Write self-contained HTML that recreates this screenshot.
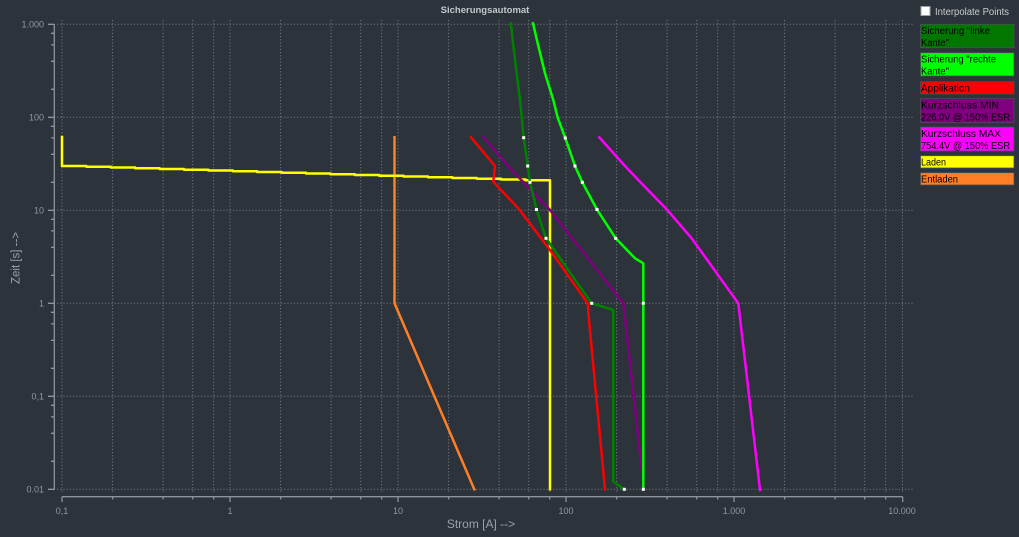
<!DOCTYPE html>
<html><head><meta charset="utf-8"><style>
html,body{margin:0;padding:0;background:#2c333a;}
svg{display:block;}
text{font-family:"Liberation Sans",sans-serif;}
</style></head><body>
<svg width="1019" height="537" viewBox="0 0 1019 537" xmlns="http://www.w3.org/2000/svg">
<rect width="1019" height="537" fill="#2c333a"/>
<text x="485" y="13" text-anchor="middle" font-size="9.5" font-weight="bold" fill="#c3c8cd">Sicherungsautomat</text>

<g stroke="#6f777f" stroke-width="1" stroke-dasharray="1.2 2" fill="none">
<path d="M62 20V493M112.6 20V493M163.1 20V493M192.7 20V493M213.7 20V493M230 20V493M280.6 20V493M331.1 20V493M360.7 20V493M381.7 20V493M398 20V493M448.6 20V493M499.1 20V493M528.7 20V493M549.7 20V493M566 20V493M616.6 20V493M667.1 20V493M696.7 20V493M717.7 20V493M734 20V493M784.6 20V493M835.1 20V493M864.7 20V493M885.7 20V493M902.5 20V493"/>
<path d="M57 24.3H913M57 117.3H913M57 210.3H913M57 303.3H913M57 396.3H913M57 489.3H913"/>
</g>

<g stroke="#8d959c" stroke-width="1.3" fill="none">
<path d="M54.3 24V490"/>
<path d="M48 24.3H54.3M48 117.3H54.3M48 210.3H54.3M48 303.3H54.3M48 396.3H54.3M48 489.3H54.3"/>
<path d="M51 33.3H54.3M51 44.9H54.3M51 61.3H54.3M51 89.3H54.3M51 126.3H54.3M51 137.9H54.3M51 154.3H54.3M51 182.3H54.3M51 219.3H54.3M51 230.9H54.3M51 247.3H54.3M51 275.3H54.3M51 312.3H54.3M51 323.9H54.3M51 340.3H54.3M51 368.3H54.3M51 405.3H54.3M51 416.9H54.3M51 433.3H54.3M51 461.3H54.3"/>
<path d="M62 496.7H902.7"/>
<path d="M62 496.7V502M230 496.7V502M398 496.7V502M566 496.7V502M734 496.7V502M902.7 496.7V502"/>
<path d="M112.6 496.7V499.5M163.1 496.7V499.5M192.7 496.7V499.5M213.7 496.7V499.5M280.6 496.7V499.5M331.1 496.7V499.5M360.7 496.7V499.5M381.7 496.7V499.5M448.6 496.7V499.5M499.1 496.7V499.5M528.7 496.7V499.5M549.7 496.7V499.5M616.6 496.7V499.5M667.1 496.7V499.5M696.7 496.7V499.5M717.7 496.7V499.5M784.6 496.7V499.5M835.1 496.7V499.5M864.7 496.7V499.5M885.7 496.7V499.5"/>
</g>

<g font-size="9" fill="#8f98a0" text-anchor="end">
<text x="44" y="27.5">1.000</text>
<text x="44" y="120.5">100</text>
<text x="44" y="213.5">10</text>
<text x="44" y="306.5">1</text>
<text x="44" y="399.5">0,1</text>
<text x="44" y="492.5">0.01</text>
</g>
<g font-size="9" fill="#8f98a0" text-anchor="middle">
<text x="62" y="514">0,1</text>
<text x="230" y="514">1</text>
<text x="398" y="514">10</text>
<text x="566" y="514">100</text>
<text x="734" y="514">1.000</text>
<text x="902" y="514">10.000</text>
</g>
<text x="481" y="528" font-size="12" fill="#9aa2a9" text-anchor="middle">Strom [A] --&gt;</text>
<text transform="translate(19.5 258) rotate(-90)" font-size="11.5" fill="#9aa2a9" text-anchor="middle">Zeit [s] --&gt;</text>

<g fill="none" stroke-width="2.5" stroke-linejoin="round" stroke-linecap="square">
<path stroke="#ff7f27" d="M394.5 137.3V303.3L474.3 489.3"/>
<path stroke="#ffff00" d="M62 137V166H86.4V166.75H110.8V167.5H135.2V168.25H159.6V169H184V169.75H208.4V170.5H232.8V171.25H257.2V172H281.6V172.75H306V173.5H330.4V174.25H354.8V175H379.2V175.75H403.6V176.5H428V177.25H452.4V178H476.8V178.75H501.2V179.5H525.6V180.25H550V489.3"/>
<path stroke="#ff0000" d="M471 137.3L495 166L493.3 181.7L518.3 208.3L550 250L587.7 303.3L589 320L605 489.3"/>
<path stroke="#800080" d="M483.3 137.3L511.7 170L550 210L623.3 303.3L644 489.3"/>
<path stroke="#ff00ff" d="M599.3 137.3L625 166L640 181.7L666.7 209.3L691.7 238.3L738.3 303.3L760 490"/>
<path stroke="#008000" d="M511 23.3L513 43.3L516.7 73.3L520 100L523.7 137.7L527.7 166L530 182.3L536.5 209.5L546 238.3L591.7 303.3L613.3 310L613.3 481.7L624.3 489.3"/>
<path stroke="#00ff00" d="M533 23.3L537.7 43.3L545 73.3L553.3 100L557.7 117.7L565.3 138L575 166L582.3 182.3L597 209.5L615.7 238.3L635 258.3L643.3 263.3L643.3 489.3"/>
</g>
<g fill="#ffffff">
<rect x="522.2" y="136.2" width="3" height="3"/>
<rect x="526.2" y="164.5" width="3" height="3"/>
<rect x="528.5" y="180.8" width="3" height="3"/>
<rect x="535" y="208" width="3" height="3"/>
<rect x="544.5" y="236.8" width="3" height="3"/>
<rect x="590.2" y="301.8" width="3" height="3"/>
<rect x="622.8" y="487.8" width="3" height="3"/>
<rect x="563.8" y="136.5" width="3" height="3"/>
<rect x="573.5" y="164.5" width="3" height="3"/>
<rect x="580.8" y="180.8" width="3" height="3"/>
<rect x="595.5" y="208" width="3" height="3"/>
<rect x="614.2" y="236.8" width="3" height="3"/>
<rect x="641.8" y="301.8" width="3" height="3"/>
<rect x="641.8" y="487.8" width="3" height="3"/>
</g>

<rect x="921" y="6.5" width="9" height="9" fill="#ffffff" stroke="#9aa0a6" stroke-width="1"/>
<text x="935" y="15" font-size="10" fill="#c8ccd0" textLength="74" lengthAdjust="spacingAndGlyphs">Interpolate Points</text>

<g stroke="#4a5057" stroke-width="0.8">
<rect x="920.5" y="24.3" width="93.5" height="23.4" fill="#007800"/>
<rect x="920.5" y="52.7" width="93.5" height="23.3" fill="#00ff00"/>
<rect x="920.5" y="81.7" width="93.5" height="12.3" fill="#ff0000"/>
<rect x="920.5" y="98.7" width="93.5" height="24" fill="#800080"/>
<rect x="920.5" y="127" width="93.5" height="24" fill="#ff00ff"/>
<rect x="920.5" y="155.7" width="93.5" height="12.3" fill="#ffff00"/>
<rect x="920.5" y="172.7" width="93.5" height="12.3" fill="#ff7f27"/>
</g>
<g font-size="10" fill="#000000" lengthAdjust="spacingAndGlyphs">
<text x="921" y="34" textLength="69" lengthAdjust="spacingAndGlyphs">Sicherung "linke</text>
<text x="921" y="46" textLength="28" lengthAdjust="spacingAndGlyphs">Kante"</text>
<text x="921" y="62.5" textLength="75" lengthAdjust="spacingAndGlyphs">Sicherung "rechte</text>
<text x="921" y="74.5" textLength="28" lengthAdjust="spacingAndGlyphs">Kante"</text>
<text x="921" y="91.5" textLength="49" lengthAdjust="spacingAndGlyphs">Applikation</text>
<text x="921" y="108.5" textLength="78" lengthAdjust="spacingAndGlyphs">Kurzschluss MIN</text>
<text x="921" y="120.5" textLength="89" lengthAdjust="spacingAndGlyphs">226.0V @ 150% ESR</text>
<text x="921" y="137" textLength="80" lengthAdjust="spacingAndGlyphs">Kurzschluss MAX</text>
<text x="921" y="149" textLength="89" lengthAdjust="spacingAndGlyphs">754.4V @ 150% ESR</text>
<text x="921" y="165.5" textLength="25" lengthAdjust="spacingAndGlyphs">Laden</text>
<text x="921" y="182.5" textLength="37" lengthAdjust="spacingAndGlyphs">Entladen</text>
</g>
</svg>
</body></html>
